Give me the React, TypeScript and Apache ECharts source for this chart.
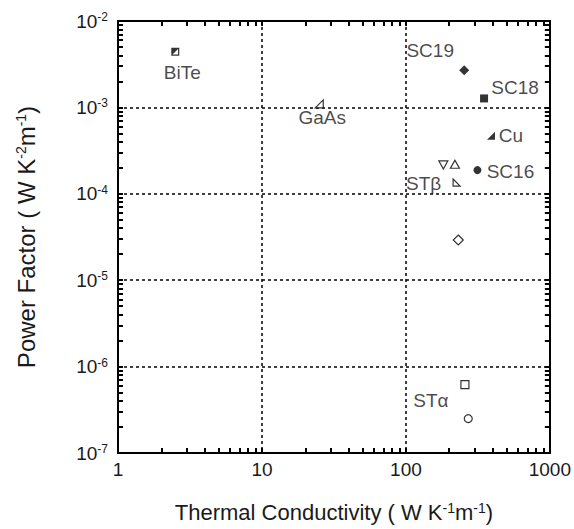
import React, { useEffect, useRef } from "react";
import * as echarts from "echarts";

// ---- data ----
const pointNames = ["BiTe", "GaAs", "SC19", "SC18", "Cu", "ST-a", "ST-b", "SC16", "STβ", "ST-d", "STα", "ST-c"];
const pointLabels = ["BiTe", "GaAs", "SC19", "SC18", "Cu", "", "", "SC16", "STβ", "", "STα", ""];
const thermalConductivity = [2.5, 25, 254, 349, 390, 182, 219, 314, 225, 231, 257, 271];
const powerFactor = [4.4e-3, 1.1e-3, 2.7e-3, 1.27e-3, 4.7e-4, 2.16e-4, 2.2e-4, 1.88e-4, 1.35e-4, 2.92e-5, 6.2e-7, 2.5e-7];

const xTickLabels = ["1", "10", "100", "1000"];
const xDecadeExponents = [0, 1, 2];
const yDecadeExponents = [-7, -6, -5, -4, -3];
const minorMultipliers = [1, 2, 3, 4, 5, 6, 7, 8, 9];

// ---- styles ----
const FONT = "'Liberation Sans', Arial, Helvetica, sans-serif";
const TXT = "#1a1a1a";

const halfSquare =
  "path://M0,0 L10,0 L10,10 L0,10 Z M1.5,1.5 L1.5,8.5 L8.5,8.5 L8.5,1.5 Z M1.5,1.5 L8.5,1.5 L1.5,8.5 Z";
const triBR = "path://M10,0 L10,10 L0,10 Z";
const triBL = "path://M0,0 L0,10 L10,10 Z";
const triDown = "path://M0,0 L10,0 L5,9 Z";

const filled = { color: "#000", borderWidth: 0 };
const open = { color: "#fff", borderColor: "#000", borderWidth: 1.2 };

const markerStyles: any[] = [
  { symbol: halfSquare, symbolSize: 8, itemStyle: filled, offset: [7, 21] },
  { symbol: triBR, symbolSize: 8, itemStyle: open, offset: [3, 14] },
  { symbol: "diamond", symbolSize: 10, itemStyle: filled, offset: [-34, -20] },
  { symbol: "rect", symbolSize: 8, itemStyle: filled, offset: [31, -11] },
  { symbol: triBR, symbolSize: 8, itemStyle: filled, offset: [20, 0] },
  { symbol: triDown, symbolSize: [9, 8], itemStyle: open, offset: [0, 0] },
  { symbol: "triangle", symbolSize: [9, 8], itemStyle: open, offset: [0, 0] },
  { symbol: "circle", symbolSize: 8, itemStyle: filled, offset: [33, 1] },
  { symbol: triBL, symbolSize: 7, itemStyle: open, offset: [-33, 1] },
  { symbol: "diamond", symbolSize: 10, itemStyle: open, offset: [0, 0] },
  { symbol: "rect", symbolSize: 8, itemStyle: open, offset: [-34, 16] },
  { symbol: "circle", symbolSize: 8, itemStyle: open, offset: [0, 0] },
];

// tick positions in log10 space (1..9 × each decade, plus the top)
function logTicks(exps: number[]) {
  const out: number[] = [];
  exps.forEach((e) => minorMultipliers.forEach((m) => out.push(e + Math.log10(m))));
  out.push(exps[exps.length - 1] + 1);
  return out;
}

export default function App() {
  const ref = useRef<HTMLDivElement>(null);
  useEffect(() => {
    if (!ref.current) return;
    const chart = echarts.init(ref.current, null, { renderer: "svg" });
    const xTicks = logTicks(xDecadeExponents);
    const yTicks = logTicks(yDecadeExponents);

    const axisLine = { show: true, onZero: false, lineStyle: { color: "#000", width: 2 } };
    const noLine = { show: false, onZero: false };
    const tick = (vals: number[]) => ({
      show: true,
      inside: true,
      length: 5,
      customValues: vals,
      lineStyle: { color: "#000", width: 2 },
    });
    const grid = { show: true, lineStyle: { color: "#000", width: 1.5, type: [3, 3] } };
    const sup = { fontSize: 14, verticalAlign: "top", lineHeight: 10, fontFamily: FONT, color: TXT };

    const data = pointNames.map((n, i) => ({
      name: n,
      value: [thermalConductivity[i], powerFactor[i]],
      symbol: markerStyles[i].symbol,
      symbolSize: markerStyles[i].symbolSize,
      itemStyle: markerStyles[i].itemStyle,
      label: {
        show: pointLabels[i] !== "",
        position: "inside",
        offset: markerStyles[i].offset,
        formatter: () => pointLabels[i],
        color: TXT,
        fontSize: 19,
        fontFamily: FONT,
        textBorderWidth: 0,
      },
    }));

    const tickAxis = (min: number, max: number, position: string, ticks: number[]) => ({
      type: "value",
      min,
      max,
      position,
      axisLine,
      axisTick: tick(ticks),
      axisLabel: { show: false },
      splitLine: { show: false },
    });

    chart.setOption({
      animation: false,
      grid: { left: 118, right: 22, top: 21, bottom: 76, containLabel: false },
      xAxis: [
        {
          type: "log",
          logBase: 10,
          min: 1,
          max: 1000,
          position: "bottom",
          axisLine,
          axisTick: { show: false },
          splitLine: { show: false },
          axisLabel: {
            show: true,
            margin: 7,
            color: TXT,
            fontSize: 19,
            fontFamily: FONT,
            formatter: (v: number) => xTickLabels[Math.round(Math.log10(v))],
          },
          name: "Thermal Conductivity ( W K{s|-1}m{s|-1})",
          nameLocation: "middle",
          nameGap: 48,
          nameTextStyle: { color: TXT, fontSize: 22, fontFamily: FONT, rich: { s: sup } },
        },
        {
          type: "log",
          logBase: 10,
          min: 1,
          max: 1000,
          position: "bottom",
          axisLine: noLine,
          axisTick: { show: false },
          axisLabel: { show: false },
          splitLine: grid,
        },
        tickAxis(0, 3, "bottom", xTicks),
        tickAxis(0, 3, "top", xTicks),
      ],
      yAxis: [
        {
          type: "log",
          logBase: 10,
          min: 1e-7,
          max: 1e-2,
          position: "left",
          axisLine,
          axisTick: { show: false },
          splitLine: { show: false },
          axisLabel: {
            show: true,
            margin: 10,
            color: TXT,
            fontFamily: FONT,
            formatter: (v: number) => `{b|10}{s|${Math.round(Math.log10(v))}}`,
            rich: {
              b: { fontSize: 19, lineHeight: 20, fontFamily: FONT, color: TXT },
              s: { fontSize: 12, lineHeight: 8, verticalAlign: "top", fontFamily: FONT, color: TXT },
            },
          },
          name: "Power Factor ( W K{s|-2}m{s|-1})",
          nameLocation: "middle",
          nameGap: 80,
          nameTextStyle: { color: TXT, fontSize: 24, fontFamily: FONT, rich: { s: sup } },
        },
        {
          type: "log",
          logBase: 10,
          min: 1e-7,
          max: 1e-2,
          position: "left",
          axisLine: noLine,
          axisTick: { show: false },
          axisLabel: { show: false },
          splitLine: grid,
        },
        tickAxis(-7, -2, "left", yTicks),
        tickAxis(-7, -2, "right", yTicks),
      ],
      series: [
        {
          type: "scatter",
          xAxisIndex: 0,
          yAxisIndex: 0,
          data,
          z: 5,
        },
      ],
    });
    return () => chart.dispose();
  }, []);
  return (
    <div
      ref={ref}
      style={{ position: "absolute", left: 0, top: 0, width: 574, height: 529, background: "#fff" }}
    />
  );
}
